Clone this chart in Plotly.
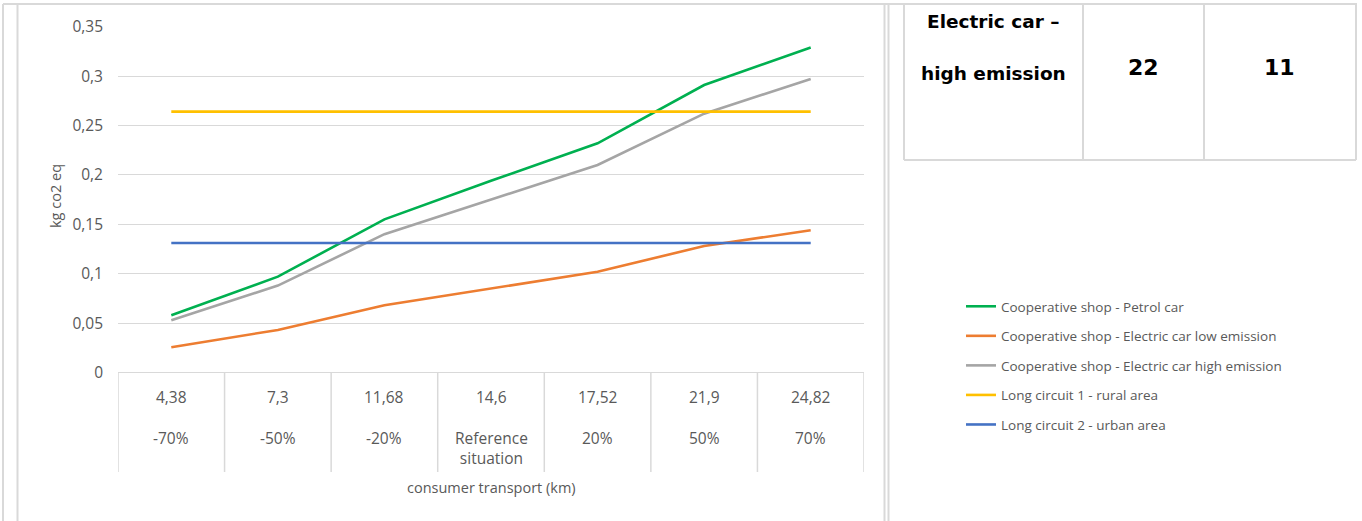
import plotly.graph_objects as go

# --- data -------------------------------------------------------------
km_labels = ["4,38", "7,3", "11,68", "14,6", "17,52", "21,9", "24,82"]
pct_labels = ["-70%", "-50%", "-20%", "Reference<br>situation", "20%", "50%", "70%"]

petrol_car = [0.058, 0.097, 0.155, 0.194, 0.232, 0.291, 0.329]
electric_low = [0.0256, 0.0431, 0.068, 0.0853, 0.102, 0.128, 0.144]
electric_high = [0.053, 0.088, 0.140, 0.175, 0.210, 0.262, 0.297]
rural_area = [0.264, 0.264, 0.264, 0.264, 0.264, 0.264, 0.264]
urban_area = [0.131, 0.131, 0.131, 0.131, 0.131, 0.131, 0.131]

series_names = [
    "Cooperative shop - Petrol car",
    "Cooperative shop - Electric car low emission",
    "Cooperative shop - Electric car high emission",
    "Long circuit 1 - rural area",
    "Long circuit 2 - urban area",
]
series_colors = ["#00B050", "#ED7D31", "#A5A5A5", "#FFC000", "#4472C4"]

y_tick_vals = [0, 0.05, 0.1, 0.15, 0.2, 0.25, 0.3, 0.35]
y_tick_text = ["0", "0,05", "0,1", "0,15", "0,2", "0,25", "0,3", "0,35"]

table_header = ["Electric car –", "high emission"]
table_values = ["22", "11"]

# --- layout helpers (pixel -> paper) ------------------------------------
W, H = 1362, 521


def px(x):
    return x / W


def py(y):
    return 1 - y / H


TEXT = "#595959"
GRID = "#D9D9D9"
FONT = "Open Sans"

fig = go.Figure()
xs = list(range(len(km_labels)))
for name, color, vals in zip(series_names, series_colors,
                             [petrol_car, electric_low, electric_high, rural_area, urban_area]):
    fig.add_trace(go.Scatter(
        x=xs, y=vals, mode="lines", name=name, legendgroup=name,
        line=dict(color=color, width=2.6),
    ))

shapes = []
annotations = []

# category box separators under the plot area
for i in range(len(km_labels) + 1):
    shapes.append(dict(type="line", xref="x", yref="paper", x0=i - 0.5, x1=i - 0.5,
                       y0=py(372.5), y1=py(472), line=dict(color=GRID, width=1.5)))

for i, (k, p) in enumerate(zip(km_labels, pct_labels)):
    annotations.append(dict(xref="x", yref="paper", x=i, y=py(397), text=k, showarrow=False,
                            xanchor="center", yanchor="middle",
                            font=dict(family=FONT, size=15.5, color=TEXT)))
    annotations.append(dict(xref="x", yref="paper", x=i, y=py(425), text=p, showarrow=False,
                            xanchor="center", yanchor="top",
                            font=dict(family=FONT, size=15.5, color=TEXT)))

annotations.append(dict(xref="paper", yref="paper", x=px(491), y=py(487),
                        text="consumer transport (km)", showarrow=False,
                        xanchor="center", yanchor="middle",
                        font=dict(family=FONT, size=14.5, color=TEXT)))
annotations.append(dict(xref="paper", yref="paper", x=px(55), y=py(196),
                        text="kg co2 eq", showarrow=False, textangle=-90,
                        xanchor="center", yanchor="middle",
                        font=dict(family=FONT, size=14.5, color=TEXT)))

# frame lines
frame = [
    (3, 4, 3, H), (17.5, 4, 17.5, H), (3, 4, 1357, 4),
    (884.5, 4, 884.5, H), (888.5, 4, 888.5, H),
    (904, 4, 904, 160), (1083, 4, 1083, 160), (1204, 4, 1204, 160),
    (1356, 4, 1356, 160), (904, 160, 1356, 160),
]
for x0, y0, x1, y1 in frame:
    shapes.append(dict(type="line", xref="paper", yref="paper", x0=px(x0), x1=px(x1),
                       y0=py(y0), y1=py(y1), line=dict(color=GRID, width=2)))

# table text
for yy, line in zip([22, 73], table_header):
    annotations.append(dict(xref="paper", yref="paper", x=px(993), y=py(yy), text=line,
                            showarrow=False, xanchor="center", yanchor="middle",
                            font=dict(family="DejaVu Sans", size=18.5, color="#000000",
                                      weight="bold")))
for cx, v in zip([1143, 1279], table_values):
    annotations.append(dict(xref="paper", yref="paper", x=px(cx), y=py(68), text=v,
                            showarrow=False, xanchor="center", yanchor="middle",
                            font=dict(family="DejaVu Sans", size=22, color="#000000",
                                      weight="bold")))

fig.update_layout(
    width=W, height=H,
    margin=dict(l=0, r=0, t=0, b=0, autoexpand=False),
    paper_bgcolor="white", plot_bgcolor="white",
    shapes=shapes, annotations=annotations,
    showlegend=True,
    legend=dict(x=px(961), y=py(291), xanchor="left", yanchor="top",
                font=dict(family=FONT, size=13.5, color=TEXT),
                tracegroupgap=9, bgcolor="rgba(0,0,0,0)"),
    xaxis=dict(domain=[px(118), px(864)], range=[-0.5, 6.5], showticklabels=False,
               showgrid=False, zeroline=False, ticks="", automargin=False),
    yaxis=dict(domain=[py(372.5), py(26.7)], range=[0, 0.35], tickmode="array",
               tickvals=y_tick_vals, ticktext=y_tick_text, showgrid=True, gridcolor=GRID,
               gridwidth=1.3, zeroline=True, zerolinecolor=GRID, zerolinewidth=1.3,
               automargin=False,
               tickfont=dict(family=FONT, size=15.5, color=TEXT), ticklabelstandoff=14),
)

fig.write_html("out.html")
